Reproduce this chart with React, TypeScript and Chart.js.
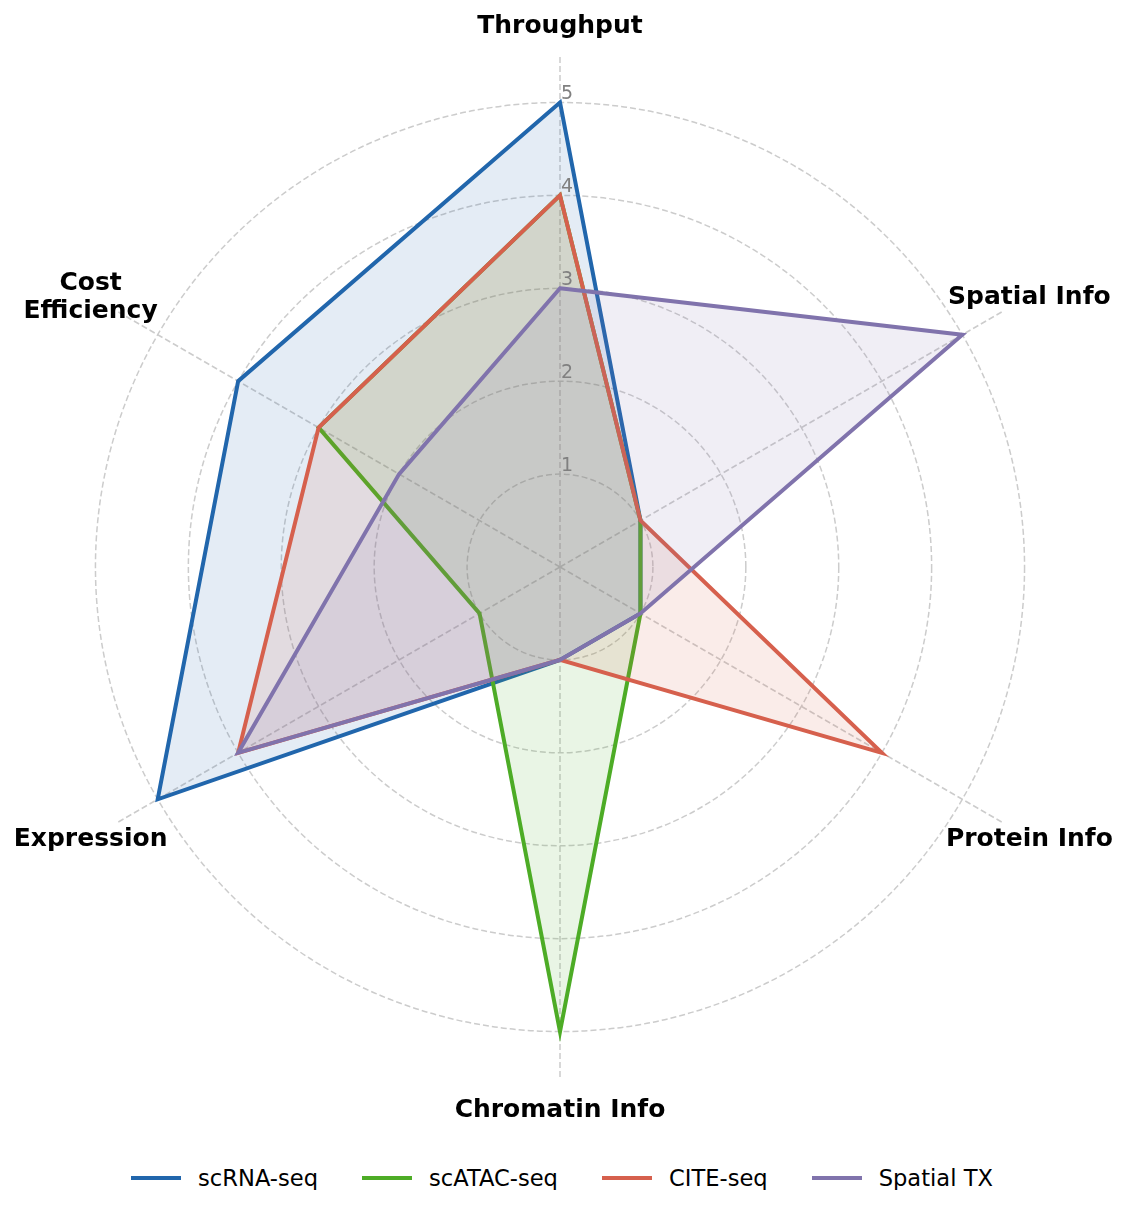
import { useEffect, useRef } from 'react';
import { Chart, registerables, type ChartConfiguration } from 'chart.js';

Chart.register(...registerables);

const FONT = '"DejaVu Sans", Verdana, sans-serif';

// axes, clockwise from the top
const AXES: (string | string[])[] = [
  'Throughput', 'Spatial Info', 'Protein Info', 'Chromatin Info', 'Expression', ['Cost', 'Efficiency'],
];

const SCRNA = [5, 1, 1, 1, 5, 4];
const SCATAC = [4, 1, 1, 5, 1, 3];
const CITE = [4, 1, 4, 1, 4, 3];
const SPATIAL = [3, 5, 1, 1, 4, 2];

const SERIES = [
  { label: 'scRNA-seq', data: SCRNA, color: '#2166ac', fill: 'rgba(33,102,172,0.12)' },
  { label: 'scATAC-seq', data: SCATAC, color: '#4dac26', fill: 'rgba(77,172,38,0.12)' },
  { label: 'CITE-seq', data: CITE, color: '#d6604d', fill: 'rgba(214,96,77,0.12)' },
  { label: 'Spatial TX', data: SPATIAL, color: '#8073ac', fill: 'rgba(128,115,172,0.12)' },
];

const TICKS = [1, 2, 3, 4, 5];
const R_MAX = 5.5;

// axis names and ring numbers, placed with the radial scale
const labelsPlugin = {
  id: 'radarText',
  afterDatasetsDraw(chart: Chart) {
    const scale: any = chart.scales.r;
    const ctx = chart.ctx;
    ctx.save();
    ctx.font = `19px ${FONT}`;
    ctx.fillStyle = '#808080';
    ctx.textAlign = 'left';
    ctx.textBaseline = 'alphabetic';
    TICKS.forEach((t) => {
      const p = scale.getPointPositionForValue(0, t);
      ctx.fillText(String(t), p.x + 1, p.y - 3);
    });
    ctx.font = `bold 25px ${FONT}`;
    ctx.fillStyle = '#000';
    ctx.textAlign = 'center';
    ctx.textBaseline = 'middle';
    AXES.forEach((name, i) => {
      const p = scale.getPointPosition(i, scale.drawingArea + 31);
      const lines = Array.isArray(name) ? name : [name];
      const lh = 28;
      lines.forEach((ln, k) => {
        ctx.fillText(ln, p.x, p.y + 1 + (k - (lines.length - 1) / 2) * lh);
      });
    });
    ctx.restore();
  },
};

export default function App() {
  const ref = useRef<HTMLCanvasElement>(null);

  useEffect(() => {
    if (!ref.current) return;
    const config: ChartConfiguration<'radar'> = {
      type: 'radar',
      data: {
        labels: AXES.map((a) => (Array.isArray(a) ? a.join(' ') : a)),
        datasets: SERIES.map((s, i) => ({
          label: s.label,
          data: s.data,
          borderColor: s.color,
          backgroundColor: s.fill,
          borderWidth: 4,
          fill: true,
          pointRadius: 0,
          tension: 0,
          order: SERIES.length - i,
        })),
      },
      options: {
        responsive: true,
        maintainAspectRatio: false,
        animation: false,
        layout: { padding: { top: 48, bottom: 60, left: 0, right: 6 } },
        plugins: { legend: { display: false }, tooltip: { enabled: false } },
        scales: {
          r: {
            min: 0,
            max: R_MAX,
            ticks: { stepSize: 1, display: false },
            pointLabels: { display: false },
            grid: {
              circular: true,
              color: (c: any) => (c.tick && c.tick.value > 5 ? 'rgba(0,0,0,0)' : '#cccccc'),
              lineWidth: 1.5,
            },
            border: { dash: [6, 3] },
            angleLines: { color: '#cccccc', lineWidth: 1.5, borderDash: [6, 3] },
          },
        },
      },
      plugins: [labelsPlugin],
    };
    const chart = new Chart(ref.current, config);
    return () => chart.destroy();
  }, []);

  return (
    <div style={{ width: 1110, fontFamily: FONT }}>
      <div style={{ position: 'relative', width: 1110, height: 1130 }}>
        <canvas ref={ref} />
      </div>
      <div
        style={{
          marginTop: 28, height: 24, display: 'flex', justifyContent: 'center',
          alignItems: 'center', gap: 44, fontSize: 22.6, paddingRight: 2,
        }}
      >
        {SERIES.map((s) => (
          <div key={s.label} style={{ display: 'flex', alignItems: 'center' }}>
            <span style={{ width: 50, height: 4, background: s.color, marginRight: 17, display: 'inline-block' }} />
            <span style={{ color: '#000', lineHeight: '24px' }}>{s.label}</span>
          </div>
        ))}
      </div>
    </div>
  );
}
